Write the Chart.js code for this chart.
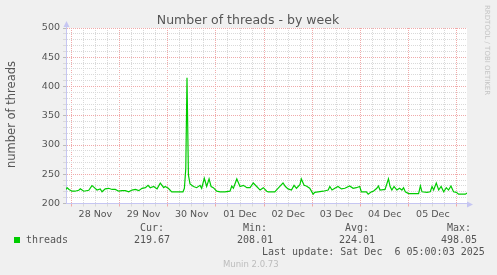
<!DOCTYPE html>
<html>
<head>
<meta charset="utf-8">
<script src="https://cdn.jsdelivr.net/npm/chart.js@4"></script>
<style>
  html, body { margin: 0; padding: 0; background: #f0f0f0; }
  canvas { display: block; }
</style>
</head>
<body>
<canvas id="chart" width="497" height="275"></canvas>
<script>
// hours since 28 Nov 00:00
const hours = [
  -2.6, -2.1, -1.1, 0.3, 1.8, 3.7, 4.5, 6.2, 8.7, 10.3, 11.2, 12.8, 14.4, 15.3, 16.9, 18.6,
  20.3, 21.9, 23.6, 25.2, 26.9, 28.6, 30.2, 31.9, 33.6, 35.2, 36.9, 38.2, 39.3, 41.0, 42.7,
  44.3, 46.0, 46.7, 48.3, 50.0, 51.6, 55.6, 56.3, 57.0, 57.6, 58.3, 59.1, 60.8, 62.4, 64.1,
  64.9, 66.2, 67.4, 68.6, 69.6, 70.7, 72.4, 74.1, 76.5, 79.0, 79.9, 80.7, 82.4, 84.0, 85.7,
  87.4, 89.0, 90.6, 92.3, 94.0, 95.6, 97.3, 98.0, 101.3, 102.9, 104.3, 105.4, 106.6, 107.9,
  109.6, 110.9, 112.1, 113.8, 114.5, 115.9, 117.0, 118.7, 120.4, 121.2, 122.9, 125.4, 127.9,
  128.7, 129.8, 131.2, 132.8, 134.5, 136.2, 138.6, 140.3, 141.9, 143.6, 144.4, 146.9, 147.8,
  149.4, 150.4, 152.1, 152.9, 153.7, 156.2, 157.9, 158.7, 159.6, 160.7, 162.1, 163.4, 164.6,
  165.4, 166.3, 167.9, 170.4, 172.9, 173.8, 174.6, 177.1, 178.7, 179.6, 180.4, 181.7, 182.9,
  184.1, 185.4, 186.7, 187.8, 189.0, 190.3, 191.7, 192.8, 194.5, 196.2, 197.0
];
const threads = [
  224, 227, 224, 221, 221, 222.6, 225, 221, 222.6, 230.5, 228, 223, 225, 220, 225, 226,
  224, 224, 221, 222, 222, 220, 223, 224, 222, 226, 227, 231, 227, 229, 225,
  235, 227, 229, 226, 220, 220, 220, 226, 260, 415, 249, 233.5, 229, 227, 231,
  226, 243, 229, 242, 229, 227, 221, 220, 220, 221, 230, 226, 242, 229, 231,
  227, 227, 235, 229, 223, 227, 221, 220, 220, 226, 231, 235, 229, 225,
  223, 231, 226, 232, 242, 231, 230, 226, 216, 219, 220, 221, 223,
  229, 223, 226, 229, 225, 226, 230, 226, 227, 229, 220, 220, 216,
  220, 221, 226, 230, 223, 224, 242, 229, 223, 229, 223, 226, 223,
  227, 220, 217, 217, 217, 230, 220, 219, 220, 229, 223, 235, 223,
  229, 220, 227, 223, 230, 220, 219, 216, 216, 216, 218
];
const dayLabels = ['28 Nov', '29 Nov', '30 Nov', '01 Dec', '02 Dec', '03 Dec', '04 Dec', '05 Dec'];
const legendHeaders = ['Cur:', 'Min:', 'Avg:', 'Max:'];
const legendValues = ['219.67', '208.01', '224.01', '498.05'];

const xMin = -2.64;
const xMax = 197;

const SANS = '"DejaVu Sans", sans-serif';
const MONO = '"DejaVu Sans Mono", monospace';
const TEXT = '#555555';
const MAJOR = '#f0aaaa';
const MINOR = '#d9d9d9';
const AXIS = '#c6c6f2';

const muninDecor = {
  id: 'muninDecor',
  beforeDraw(chart) {
    const { ctx, chartArea: a } = chart;
    ctx.save();
    ctx.fillStyle = '#ffffff';
    ctx.fillRect(a.left, a.top, a.right - a.left, a.bottom - a.top);
    ctx.restore();
  },
  afterDraw(chart) {
    const { ctx, chartArea: a } = chart;
    ctx.save();
    // axis arrows
    ctx.fillStyle = AXIS;
    const by = Math.round(a.bottom) + 0.5;
    ctx.beginPath();
    ctx.moveTo(a.right, by - 3);
    ctx.lineTo(a.right + 6, by);
    ctx.lineTo(a.right, by + 3);
    ctx.fill();
    const lx = Math.round(a.left) + 0.5;
    ctx.beginPath();
    ctx.moveTo(lx - 3, a.top - 1);
    ctx.lineTo(lx, a.top - 7);
    ctx.lineTo(lx + 3, a.top - 1);
    ctx.fill();
    ctx.fillRect(lx - 0.5, a.top - 2, 1, 2);

    // title
    ctx.fillStyle = TEXT;
    ctx.font = '12.5px ' + SANS;
    ctx.textAlign = 'center';
    ctx.textBaseline = 'alphabetic';
    ctx.fillText('Number of threads - by week', 248, 24);

    // y axis title
    ctx.save();
    ctx.translate(15, 114.5);
    ctx.rotate(-Math.PI / 2);
    ctx.font = '11.5px ' + SANS;
    ctx.textAlign = 'center';
    ctx.fillText('number of threads', 0, 0);
    ctx.restore();

    // rrdtool watermark
    ctx.save();
    ctx.translate(485, 5);
    ctx.rotate(Math.PI / 2);
    ctx.fillStyle = '#c4c4c4';
    ctx.font = '7px ' + SANS;
    ctx.textAlign = 'left';
    ctx.fillText('RRDTOOL / TOBI OETIKER', 0, 0);
    ctx.restore();

    // legend
    ctx.fillStyle = '#00cc00';
    ctx.fillRect(14, 237, 6, 6);
    ctx.fillStyle = TEXT;
    ctx.font = '10px ' + MONO;
    ctx.textAlign = 'left';
    ctx.fillText('threads', 26, 243);
    const hx = [140, 243, 345, 447];
    const vx = [134, 237, 339, 441];
    legendHeaders.forEach((t, i) => ctx.fillText(t, hx[i], 231));
    legendValues.forEach((t, i) => ctx.fillText(t, vx[i], 243));
    ctx.fillText('Last update: Sat Dec  6 05:00:03 2025', 262, 254.5);
    ctx.fillStyle = '#bcbcbc';
    ctx.font = '8.5px ' + SANS;
    ctx.fillText('Munin 2.0.73', 223, 267);
    ctx.restore();
  }
};

new Chart(document.getElementById('chart'), {
  type: 'line',
  data: {
    datasets: [{
      label: 'threads',
      data: hours.map((h, i) => ({ x: h, y: threads[i] })),
      borderColor: '#00cc00',
      borderWidth: 1.2,
      pointRadius: 0,
      tension: 0,
      fill: false
    }]
  },
  options: {
    responsive: false,
    animation: false,
    layout: { padding: { top: 28, right: 30, bottom: 51.5, left: 0 } },
    plugins: {
      legend: { display: false },
      tooltip: { enabled: false }
    },
    scales: {
      x: {
        type: 'linear',
        min: xMin,
        max: xMax,
        afterBuildTicks(scale) {
          const t = [];
          for (let h = 0; h <= xMax; h += 6) t.push({ value: h });
          scale.ticks = t;
        },
        afterFit(scale) { scale.height = 20; },
        ticks: {
          autoSkip: false,
          maxRotation: 0,
          padding: 2,
          color: TEXT,
          font: { family: SANS, size: 9.5 },
          callback(v) {
            return (v - 12) % 24 === 0 ? dayLabels[(v - 12) / 24] : '';
          }
        },
        grid: {
          lineWidth: 1,
          tickLength: 3,
          color: c => (c.tick && c.tick.value % 24 === 0 ? MAJOR : MINOR),
          tickColor: c => (c.tick && c.tick.value % 24 === 0 ? MAJOR : MINOR)
        },
        border: { color: AXIS, width: 1, dash: [1, 1] }
      },
      y: {
        min: 200,
        max: 500,
        afterFit(scale) { scale.width = 66; },
        ticks: {
          stepSize: 10,
          autoSkip: false,
          padding: 3,
          color: TEXT,
          font: { family: SANS, size: 9.5 },
          callback: v => (v % 50 === 0 ? String(v) : '')
        },
        grid: {
          lineWidth: 1,
          tickLength: 3,
          color: c => (c.tick && c.tick.value % 50 === 0 ? MAJOR : MINOR),
          tickColor: c => (c.tick && c.tick.value % 50 === 0 ? '#bbbbbb' : MINOR)
        },
        border: { color: AXIS, width: 1, dash: [1, 1] }
      }
    }
  },
  plugins: [muninDecor]
});
</script>
</body>
</html>
